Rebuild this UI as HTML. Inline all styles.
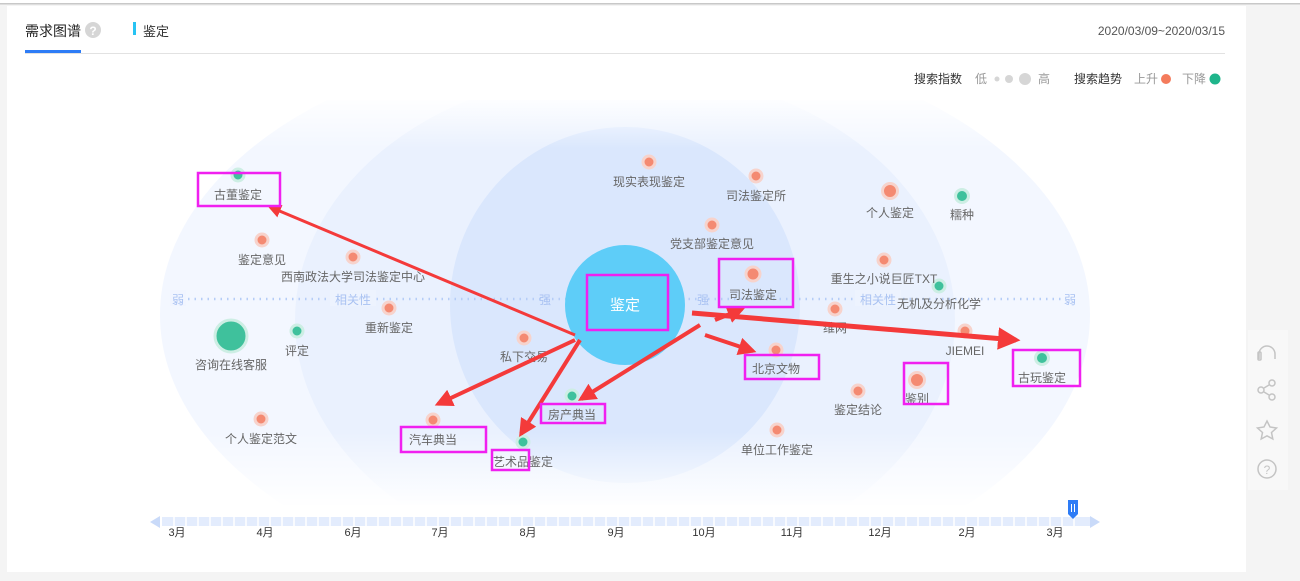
<!DOCTYPE html>
<html><head><meta charset="utf-8"><style>
body{margin:0;width:1300px;height:581px;background:#f4f4f4;overflow:hidden;font-family:"Liberation Sans","Noto Sans CJK SC",sans-serif}
svg{position:absolute;left:0;top:0}
</style></head><body>
<svg width="1300" height="581" viewBox="0 0 1300 581" font-family="Liberation Sans, Noto Sans CJK SC, sans-serif">
<defs>
<linearGradient id="fade" x1="0" y1="0" x2="0" y2="1"><stop offset="0" stop-color="#fff" stop-opacity="0.9"/><stop offset="0.12" stop-color="#fff" stop-opacity="0"/><stop offset="0.82" stop-color="#fff" stop-opacity="0"/><stop offset="1" stop-color="#fff" stop-opacity="0.95"/></linearGradient>
<clipPath id="cp"><rect x="150" y="100" width="950" height="405"/></clipPath>
<marker id="ah" viewBox="0 0 10 10" refX="8" refY="5" markerWidth="4.5" markerHeight="4.5" orient="auto"><path d="M0,0 L10,5 L0,10 z" fill="#f43a3a"/></marker>
</defs>
<rect x="0" y="0" width="1300" height="3" fill="#fff"/>
<rect x="0" y="3" width="1300" height="1.5" fill="#c8c8c8"/>
<rect x="7" y="6" width="1239" height="566" fill="#fff"/>
<!-- background ellipses -->
<g clip-path="url(#cp)">
<ellipse cx="625" cy="315" rx="465" ry="280" fill="#f3f7ff"/>
<ellipse cx="625" cy="320" rx="330" ry="250" fill="#eaf1fe"/>
<ellipse cx="625" cy="305" rx="175" ry="178" fill="#dae7fd"/>
<rect x="150" y="100" width="950" height="405" fill="url(#fade)"/>
</g>
<!-- header -->
<text x="25" y="36" font-size="14" fill="#222">需求图谱</text>
<circle cx="93" cy="30" r="8" fill="#d6d6d6"/><text x="93" y="35" font-size="12" fill="#fff" text-anchor="middle" font-weight="bold">?</text>
<rect x="25" y="50" width="56" height="3" fill="#2e7cf6"/>
<rect x="25" y="53" width="1200" height="1" fill="#e2e2e2"/>
<rect x="133" y="22" width="3" height="13" fill="#27c3f3"/>
<text x="143" y="36" font-size="13" fill="#333">鉴定</text>
<text x="1225" y="35" font-size="12" fill="#555" text-anchor="end">2020/03/09~2020/03/15</text>
<!-- legend -->
<g font-size="12">
<text x="914" y="83" fill="#333">搜索指数</text>
<text x="975" y="83" fill="#999">低</text>
<circle cx="997" cy="79" r="2.5" fill="#d6d6d6"/><circle cx="1009" cy="79" r="4" fill="#d6d6d6"/><circle cx="1025" cy="79" r="6" fill="#d6d6d6"/>
<text x="1038" y="83" fill="#999">高</text>
<text x="1074" y="83" fill="#333">搜索趋势</text>
<text x="1134" y="83" fill="#999">上升</text><circle cx="1166" cy="79" r="5" fill="#f47b5c"/>
<text x="1182" y="83" fill="#999">下降</text><circle cx="1215" cy="79" r="5.5" fill="#1fb58b"/>
</g>
<!-- axis -->
<line x1="188" y1="299" x2="1062" y2="299" stroke="#b5cdf7" stroke-width="2.5" stroke-dasharray="1.5 5"/>
<g font-size="12" fill="#a9c2f2" text-anchor="middle">
<rect x="170" y="290" width="16" height="16" fill="#f1f5ff"/><text x="178" y="304">弱</text>
<rect x="330" y="290" width="46" height="16" fill="#edf3fe"/><text x="353" y="304">相关性</text>
<text x="545" y="304">强</text><text x="703" y="304">强</text>
<rect x="855" y="290" width="46" height="16" fill="#edf3fe"/><text x="878" y="304">相关性</text>
<text x="1070" y="304">弱</text>
</g>
<!-- center -->
<circle cx="625" cy="305" r="60" fill="#5ecdf8"/>
<text x="625" y="310" font-size="15" fill="#fff" text-anchor="middle">鉴定</text>
<!-- nodes -->
<g font-size="12" fill="#666" text-anchor="middle">
<g fill="#f48a72" stroke="#f7d3cc" stroke-width="3">
<circle cx="262" cy="240" r="6"/><circle cx="353" cy="257" r="6"/><circle cx="389" cy="308" r="6"/>
<circle cx="524" cy="338" r="6"/><circle cx="261" cy="419" r="6"/><circle cx="433" cy="420" r="6"/>
<circle cx="649" cy="162" r="6"/><circle cx="756" cy="176" r="6"/><circle cx="712" cy="225" r="6"/>
<circle cx="753" cy="274" r="7"/><circle cx="890" cy="191" r="7.5"/><circle cx="884" cy="260" r="6"/>
<circle cx="835" cy="309" r="6"/><circle cx="965" cy="331" r="6"/><circle cx="776" cy="350" r="6"/>
<circle cx="917" cy="380" r="7.5"/><circle cx="858" cy="391" r="6"/><circle cx="777" cy="430" r="6"/>
</g>
<g fill="#3fc19c" stroke="#cdeee4" stroke-width="3">
<circle cx="238" cy="175" r="6"/><circle cx="231" cy="336" r="16"/><circle cx="297" cy="331" r="6"/>
<circle cx="523" cy="442" r="6"/><circle cx="572" cy="396" r="6"/><circle cx="962" cy="196" r="6.5"/>
<circle cx="939" cy="286" r="6"/><circle cx="1042" cy="358" r="6.5"/>
</g>
<text x="238" y="199">古董鉴定</text><text x="262" y="264">鉴定意见</text><text x="353" y="281">西南政法大学司法鉴定中心</text>
<text x="389" y="332">重新鉴定</text><text x="231" y="369">咨询在线客服</text><text x="297" y="355">评定</text>
<text x="524" y="361">私下交易</text><text x="261" y="443">个人鉴定范文</text><text x="433" y="444">汽车典当</text>
<text x="523" y="466">艺术品鉴定</text><text x="572" y="419">房产典当</text><text x="649" y="186">现实表现鉴定</text>
<text x="756" y="200">司法鉴定所</text><text x="712" y="248">党支部鉴定意见</text><text x="753" y="299">司法鉴定</text>
<text x="890" y="217">个人鉴定</text><text x="962" y="219">糯种</text><text x="884" y="283">重生之小说巨匠TXT</text>
<text x="939" y="308">无机及分析化学</text><text x="835" y="332">维网</text><text x="965" y="355">JIEMEI</text>
<text x="776" y="373">北京文物</text><text x="1042" y="382">古玩鉴定</text><text x="917" y="403">鉴别</text>
<text x="858" y="414">鉴定结论</text><text x="777" y="454">单位工作鉴定</text>
</g>
<!-- arrows -->
<g stroke="#f43a3a" stroke-width="4" fill="none" marker-end="url(#ah)">
<line x1="575" y1="335" x2="270" y2="207" stroke-width="3"/>
<line x1="575" y1="340" x2="438" y2="404"/>
<line x1="580" y1="340" x2="521" y2="434"/>
<line x1="700" y1="325" x2="581" y2="399"/>
<line x1="715" y1="320" x2="742" y2="309"/>
<line x1="705" y1="335" x2="753" y2="351"/>
<line x1="692" y1="313" x2="1016" y2="340" stroke-width="5"/>
</g>
<!-- magenta boxes -->
<g fill="none" stroke="#f020f0" stroke-width="2.5">
<rect x="198" y="173" width="82" height="33"/><rect x="587" y="275" width="81" height="55"/>
<rect x="719" y="259" width="74" height="48"/><rect x="745" y="355" width="74" height="24"/>
<rect x="1013" y="350" width="67" height="36"/><rect x="904" y="363" width="44" height="41"/>
<rect x="541" y="404" width="64" height="19"/><rect x="401" y="427" width="85" height="25"/>
<rect x="492" y="450" width="37" height="20"/>
</g>
<!-- timeline -->
<rect x="162" y="517" width="928" height="9" fill="#e3ecfd"/>
<g stroke="#fff" stroke-width="1.5">
<path d="M174 517v9M186 517v9M198 517v9M210 517v9M222 517v9M234 517v9M246 517v9M258 517v9M270 517v9M282 517v9M294 517v9M306 517v9M318 517v9M330 517v9M342 517v9M354 517v9M366 517v9M378 517v9M390 517v9M402 517v9M414 517v9M426 517v9M438 517v9M450 517v9M462 517v9M474 517v9M486 517v9M498 517v9M510 517v9M522 517v9M534 517v9M546 517v9M558 517v9M570 517v9M582 517v9M594 517v9M606 517v9M618 517v9M630 517v9M642 517v9M654 517v9M666 517v9M678 517v9M690 517v9M702 517v9M714 517v9M726 517v9M738 517v9M750 517v9M762 517v9M774 517v9M786 517v9M798 517v9M810 517v9M822 517v9M834 517v9M846 517v9M858 517v9M870 517v9M882 517v9M894 517v9M906 517v9M918 517v9M930 517v9M942 517v9M954 517v9M966 517v9M978 517v9M990 517v9M1002 517v9M1014 517v9M1026 517v9M1038 517v9M1050 517v9M1062 517v9M1074 517v9"/>
</g>
<path d="M150 522 L160 516 L160 528 z" fill="#c9daf9"/><path d="M1100 522 L1090 516 L1090 528 z" fill="#c9daf9"/>
<path d="M1068 500 h10 v14 l-5 5 l-5 -5 z" fill="#2e7cf6"/>
<path d="M1071.5 504v8M1074.5 504v8" stroke="#fff" stroke-width="1"/>
<g font-size="11" fill="#333" text-anchor="middle">
<text x="177" y="536">3月</text><text x="265" y="536">4月</text><text x="353" y="536">6月</text><text x="440" y="536">7月</text>
<text x="528" y="536">8月</text><text x="616" y="536">9月</text><text x="704" y="536">10月</text><text x="792" y="536">11月</text>
<text x="880" y="536">12月</text><text x="967" y="536">2月</text><text x="1055" y="536">3月</text>
</g>
<!-- right side panel -->
<rect x="1248" y="330" width="40" height="160" fill="#f8f8f8"/>
<g fill="none" stroke="#c4c4c4" stroke-width="1.5">
<path d="M1259 354 a8 8 0 0 1 16 0 v5 M1259 354 v5"/><rect x="1258" y="352" width="3" height="8" rx="1"/>
<circle cx="1272" cy="383" r="3"/><circle cx="1261" cy="390" r="3"/><circle cx="1272" cy="397" r="3"/>
<path d="M1264 388 L1269 385 M1264 392 L1269 395"/>
<path d="M1267 421 l3 6 6.5 1 -5 4.5 1.3 6.5 -5.8 -3.2 -5.8 3.2 1.3 -6.5 -5 -4.5 6.5 -1 z"/>
<circle cx="1267" cy="469" r="9"/>
</g>
<text x="1267" y="474" font-size="12" fill="#c4c4c4" text-anchor="middle">?</text>
</svg>
</body></html>
